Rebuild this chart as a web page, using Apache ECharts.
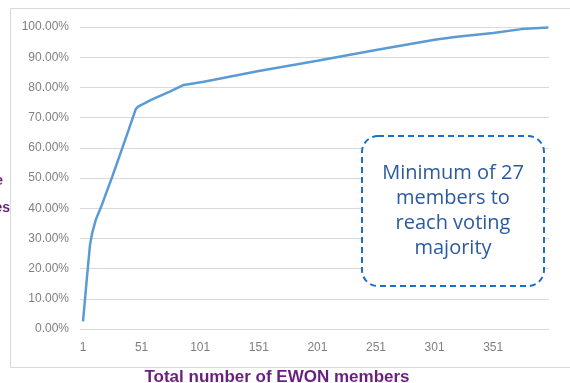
<!DOCTYPE html>
<html>
<head>
<meta charset="utf-8">
<script src="https://cdn.jsdelivr.net/npm/echarts@6/dist/echarts.min.js"></script>
<style>
  html, body { margin: 0; padding: 0; background: #ffffff; }
  #chart { width: 570px; height: 383px; }
</style>
</head>
<body>
<div id="chart"></div>
<script>
// Number of members counted so far (x) and cumulative share of votes in % (y)
const memberCounts = [1, 4, 7, 9, 12, 17, 26, 34, 40, 46, 48, 60, 75, 87, 104, 151, 201, 251, 301, 320, 351, 375, 398];
const voteShares   = [2.5, 15.5, 28, 32, 36.3, 41, 50.5, 59.3, 66, 72.8, 73.6, 76, 78.6, 80.8, 81.9, 85.4, 88.8, 92.4, 95.8, 96.8, 98.0, 99.3, 99.8];
const xTickLabels  = [1, 51, 101, 151, 201, 251, 301, 351];
const yTicks       = [0, 10, 20, 30, 40, 50, 60, 70, 80, 90, 100];

const xAxisTitle = 'Total number of EWON members';
const yAxisTitleLines = ['Cumulative share', 'of votes'];
const noteText = 'Minimum of 27\nmembers to\nreach voting\nmajority';

const points = memberCounts.map((m, i) => [m, voteShares[i]]);

const purple = '#6a1f7f';
const gridLeft = 80, gridRight = 549, gridTop = 27, gridBottom = 329;

const chart = echarts.init(document.getElementById('chart'), null, { renderer: 'canvas' });

chart.setOption({
  backgroundColor: '#ffffff',
  animation: false,
  grid: {
    left: gridLeft,
    top: gridTop,
    width: gridRight - gridLeft,
    height: gridBottom - gridTop,
    containLabel: false
  },
  xAxis: {
    type: 'value',
    min: -1.56,
    max: 398.6,
    axisLine: { show: false },
    axisTick: { show: false },
    splitLine: { show: false },
    axisLabel: {
      customValues: xTickLabels,
      color: '#7f7f7f',
      fontFamily: 'Liberation Sans, Arial, sans-serif',
      fontSize: 12,
      margin: 13
    }
  },
  yAxis: {
    type: 'value',
    min: 0,
    max: 100,
    interval: 10,
    axisLine: { show: false },
    axisTick: { show: false },
    splitLine: { lineStyle: { color: '#d9d9d9', width: 1 } },
    axisLabel: {
      customValues: yTicks,
      color: '#7f7f7f',
      fontFamily: 'Liberation Sans, Arial, sans-serif',
      fontSize: 12,
      margin: 11,
      formatter: v => v.toFixed(2) + '%'
    }
  },
  series: [{
    type: 'line',
    data: points,
    showSymbol: false,
    smooth: false,
    lineStyle: { color: '#5b9bd5', width: 2.5 },
    z: 3
  }],
  graphic: [
    // chart frame
    {
      type: 'polyline',
      shape: { points: [[570, 8.5], [10.5, 8.5], [10.5, 367.5], [570, 367.5]] },
      style: { stroke: '#d9d9d9', lineWidth: 1, fill: null },
      silent: true
    },
    // x axis title
    {
      type: 'text',
      x: 277, y: 377,
      style: {
        text: xAxisTitle,
        fill: purple,
        font: 'bold 17px "Liberation Sans", Arial, sans-serif',
        textAlign: 'center',
        textVerticalAlign: 'middle'
      }
    },
    // y axis title (runs off the left edge)
    {
      type: 'text',
      x: 3, y: 181,
      style: {
        text: yAxisTitleLines[0],
        fill: purple,
        font: 'bold 14px "Liberation Sans", Arial, sans-serif',
        textAlign: 'right',
        textVerticalAlign: 'middle'
      }
    },
    {
      type: 'text',
      x: 10, y: 208,
      style: {
        text: yAxisTitleLines[1],
        fill: purple,
        font: 'bold 14px "Liberation Sans", Arial, sans-serif',
        textAlign: 'right',
        textVerticalAlign: 'middle'
      }
    },
    // dashed call-out box
    {
      type: 'rect',
      shape: { x: 362, y: 136, width: 182, height: 150, r: 16 },
      style: { fill: '#ffffff', stroke: '#1b6ec8', lineWidth: 2, lineDash: [6, 4] },
      z: 10
    },
    {
      type: 'text',
      x: 453, y: 211,
      style: {
        text: noteText,
        fill: '#2c5aa0',
        font: '20px "Open Sans", sans-serif',
        lineHeight: 25,
        textAlign: 'center',
        textVerticalAlign: 'middle'
      },
      z: 11
    }
  ]
});
</script>
</body>
</html>
